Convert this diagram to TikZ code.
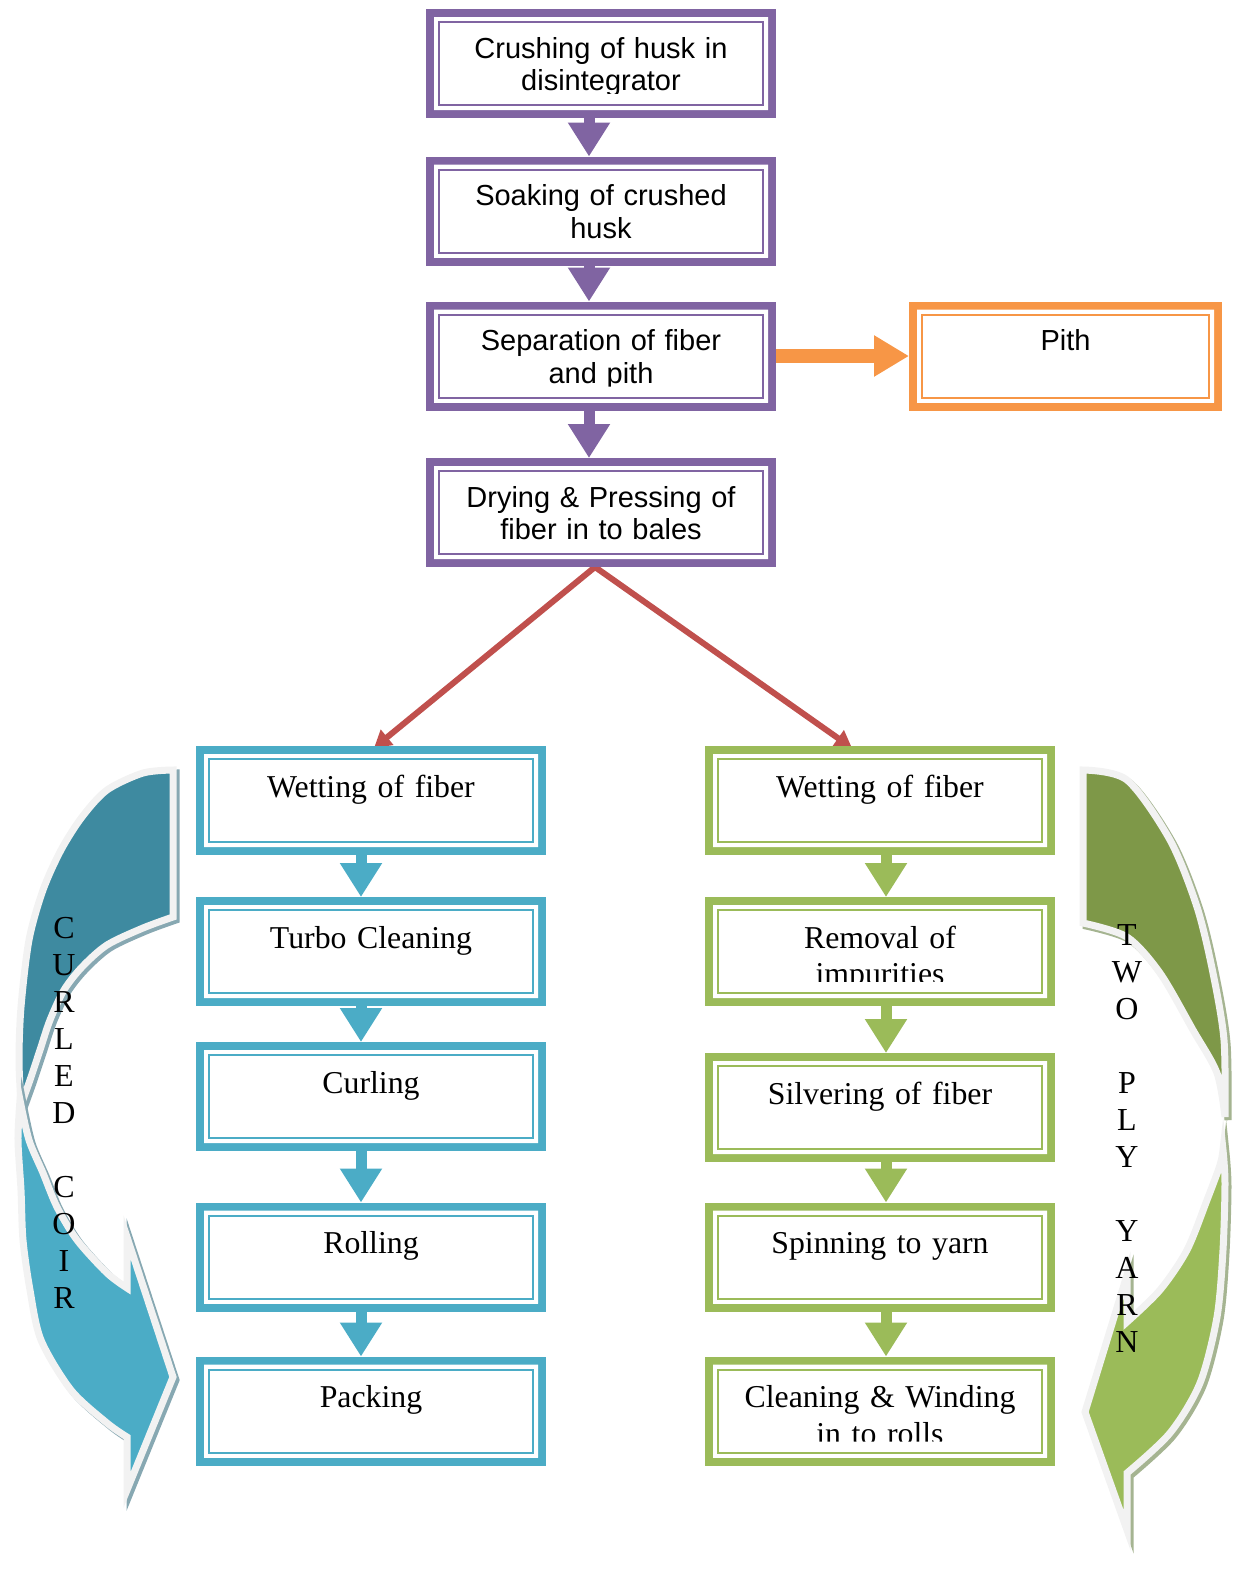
\documentclass[tikz,border=0pt]{standalone}
\usepackage{fontspec}
\setmainfont{Liberation Serif}
\newfontfamily\arialfont{Liberation Sans}
\usetikzlibrary{arrows.meta,backgrounds}
\definecolor{boxpurple}{RGB}{128,100,162}
\definecolor{boxorange}{RGB}{247,150,70}
\definecolor{linkred}{RGB}{192,80,77}
\definecolor{boxblue}{RGB}{75,172,198}
\definecolor{darkblue}{RGB}{62,138,160}
\definecolor{boxgreen}{RGB}{155,187,89}
\definecolor{darkgreen}{RGB}{126,152,72}
\definecolor{rim}{RGB}{242,242,242}
\definecolor{blueshade}{RGB}{135,168,178}
\definecolor{greenshade}{RGB}{165,180,145}
\begin{document}
\begin{tikzpicture}[x=0.5pt,y=-0.5pt,
		stepbox/.style={rectangle, draw=#1, line width=4pt, fill=white, outer sep=0pt, inner sep=0pt,
			minimum width=171pt, minimum height=50.5pt, text width=150pt, align=center},
		sansbox/.style={stepbox=#1, font=\arialfont\fontsize{14.5}{16.25}\selectfont, text height=22.5pt, text depth=28pt},
		serifbox/.style={stepbox=#1, font=\fontsize{15.9}{18.4}\selectfont, text height=23.5pt, text depth=27pt},
		blockarrow/.style={draw=#1, line width=5.5pt, -{Triangle[width=20pt,length=17pt]}, shorten >=2pt},
		redarrow/.style={draw=linkred, line width=3pt, -{Triangle[width=9.5pt,length=8.5pt]}},
		bentarrow/.style={line width=3.5pt, line join=miter, miter limit=12},
		vtext/.style={text width=20pt, align=center, inner sep=0pt, font=\fontsize{16}{18.5}\selectfont}]
	\useasboundingbox (0,0) rectangle (1239,1576);
	% main line
	\path
	(601,63.5) node[sansbox=boxpurple](crush){Crushing of husk in\\disintegrator}
	(601,211) node[sansbox=boxpurple](soak){Soaking of crushed\\husk}
	(601,356) node[sansbox=boxpurple](separate){Separation of fiber\\and pith}
	(601,512.5) node[sansbox=boxpurple](dry){Drying \& Pressing of\\fiber in to bales}
	(1065.5,356) node[sansbox=boxorange, minimum width=152.5pt](pith){Pith}
	;
	% curled coir
	\path
	(371,800.5) node[serifbox=boxblue](wet1){Wetting of fiber}
	(371,951.5) node[serifbox=boxblue](turbo){Turbo Cleaning}
	(371,1096.5) node[serifbox=boxblue](curling){Curling}
	(371,1257) node[serifbox=boxblue](rolling){Rolling}
	(371,1411) node[serifbox=boxblue](packing){Packing}
	;
	% two ply yarn
	\path
	(880,800.5) node[serifbox=boxgreen](wet2){Wetting of fiber}
	(880,951.5) node[serifbox=boxgreen](removal){Removal of\\impurities}
	(880,1107.5) node[serifbox=boxgreen](silver){Silvering of fiber}
	(880,1257) node[serifbox=boxgreen](spin){Spinning to yarn}
	(880,1411) node[serifbox=boxgreen](windup){Cleaning \& Winding\\in to rolls}
	;
	\foreach \n/\c in {crush/boxpurple, soak/boxpurple, separate/boxpurple, dry/boxpurple, pith/boxorange,
		wet1/boxblue, turbo/boxblue, curling/boxblue, rolling/boxblue, packing/boxblue,
		wet2/boxgreen, removal/boxgreen, silver/boxgreen, spin/boxgreen, windup/boxgreen}{
		\fill[white, even odd rule] ([shift={(4,4)}]\n.north west) rectangle ([shift={(-4,-4)}]\n.south east)
		([shift={(20,20)}]\n.north west) rectangle ([shift={(-20,-20)}]\n.south east);
		\draw[\c, line width=1pt] ([shift={(9,9)}]\n.north west) rectangle ([shift={(-9,-9)}]\n.south east);
	}
	\begin{scope}[on background layer]
		\foreach \a/\b in {crush/soak, soak/separate, separate/dry}
		\draw[blockarrow=boxpurple] ([xshift=-6]\a.south) -- ([xshift=-6]\b.north);
		\foreach \a/\b in {wet1/turbo, turbo/curling, curling/rolling, rolling/packing}
		\draw[blockarrow=boxblue] ([xshift=-5]\a.south) -- ([xshift=-5]\b.north);
		\foreach \a/\b in {wet2/removal, removal/silver, silver/spin, spin/windup}
		\draw[blockarrow=boxgreen] ([xshift=3]\a.south) -- ([xshift=3]\b.north);
		\draw[blockarrow=boxorange, line width=7pt, -{Triangle[width=19.5pt,length=17.5pt]}] (separate) -- (pith);
		\draw[redarrow] ([shift={(-6,4)}]dry.south) -- ([shift={(3,-2)}]wet1.north);
		\draw[redarrow] ([shift={(-6,4)}]dry.south) -- ([shift={(-28,-2)}]wet2.north);
	\end{scope}
	% bent arrows at the sides
	\foreach \s/\f/\e in {3/blueshade/blueshade, 0/darkblue/rim}
	\path[bentarrow, shift={(\s,\s)}, fill=\f, draw=\e] (173,770) -- (173,917)
	-- plot[smooth] coordinates {(173,917) (143,928) (107,945) (82,967) (64,990) (50,1020) (40,1050) (30,1080) (21,1105)}
	-- plot[smooth] coordinates {(21,1105) (19,1060) (21,1007) (29,940) (43,890) (61,850) (82,817) (107,790) (143,773) (173,770)}
	-- cycle;
	\foreach \s/\f/\e in {3/blueshade/blueshade, 0/boxblue/rim}
	\path[bentarrow, shift={(\s,\s)}, fill=\f, draw=\e] (20,1100)
	-- plot[smooth] coordinates {(20,1100) (18,1140) (21,1190) (23,1240) (30,1290) (41,1340) (71,1390) (107,1423) (127,1437)}
	-- (127,1490) -- (173,1377) -- (127,1237) -- (127,1288)
	-- plot[smooth] coordinates {(127,1288) (107,1273) (77,1240) (57,1207) (43,1173) (29,1140) (20,1100)}
	-- cycle;
	\foreach \s/\f/\e in {3/greenshade/greenshade, 0/darkgreen/rim}
	\path[bentarrow, shift={(\s,\s)}, fill=\f, draw=\e] (1083,770) -- (1083,923)
	-- plot[smooth] coordinates {(1083,923) (1127,937) (1160,973) (1193,1030) (1217,1073) (1225,1117)}
	-- plot[smooth] coordinates {(1225,1117) (1224,1040) (1213,973) (1197,907) (1170,840) (1127,780) (1083,770)}
	-- cycle;
	\foreach \s/\f/\e in {3/greenshade/greenshade, 0/boxgreen/rim}
	\path[bentarrow, shift={(\s,\s)}, fill=\f, draw=\e] (1223,1150)
	-- plot[smooth] coordinates {(1223,1150) (1225,1183) (1223,1250) (1217,1317) (1200,1383) (1170,1433) (1127,1473)}
	-- (1127,1530) -- (1085,1412) -- (1127,1275) -- (1127,1322)
	-- plot[smooth] coordinates {(1127,1322) (1160,1290) (1187,1250) (1207,1200) (1220,1165) (1223,1150)}
	-- cycle;
	\node[vtext, anchor=base](curled) at (64,938) {C\\U\\R\\L\\E\\D\\[18.5pt]C\\O\\I\\R};
	\node[vtext, anchor=base](twoply) at (1127,945) {T\\W\\O\\[18.5pt]P\\L\\Y\\[18.5pt]Y\\A\\R\\N};
\end{tikzpicture}
\end{document}
